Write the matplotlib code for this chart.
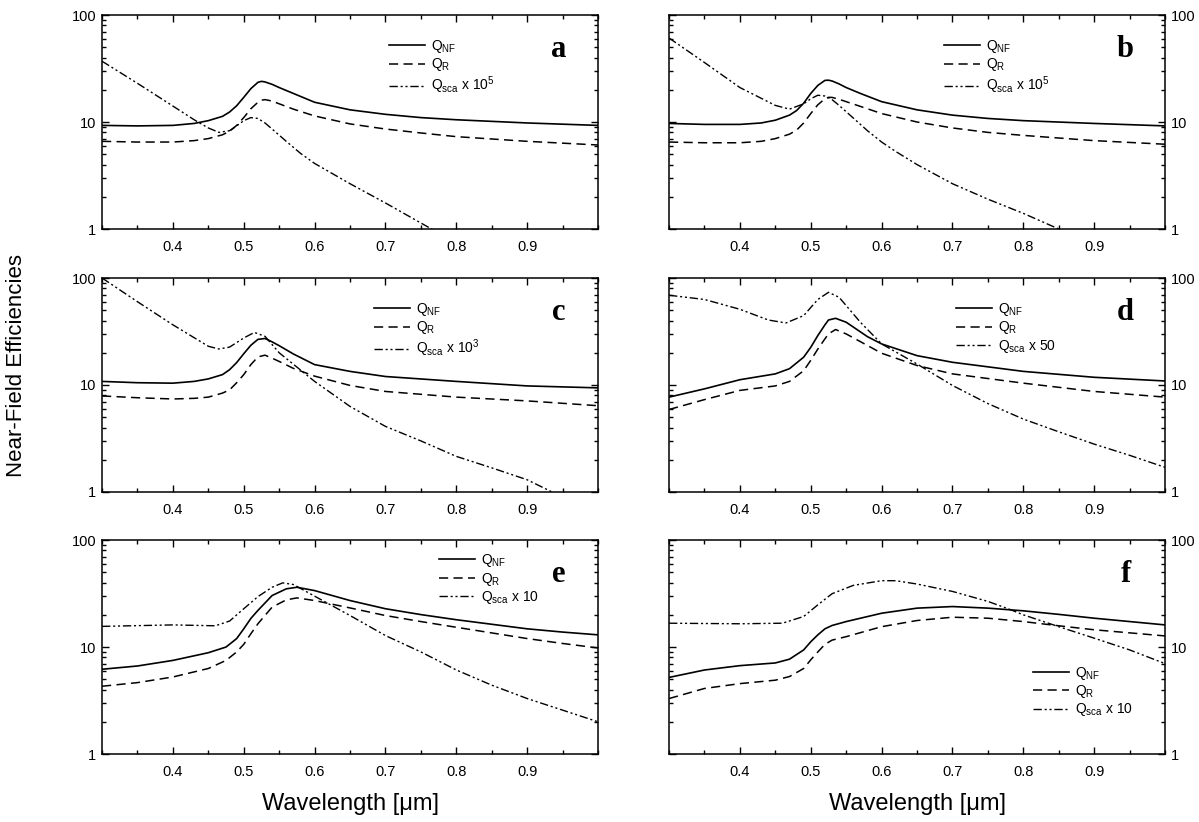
import numpy as np
import matplotlib
matplotlib.use("Agg")
import matplotlib.pyplot as plt
from matplotlib.ticker import MultipleLocator, LogLocator, NullFormatter, FixedLocator, FixedFormatter

plt.rcParams.update({"font.family": "Liberation Sans", "font.size": 10,
                     "mathtext.fontset": "custom", "mathtext.rm": "Liberation Sans",
                     "mathtext.it": "Liberation Sans:italic", "axes.linewidth": 1.1})

# ---- panel a ----
a_x = [0.30, 0.35, 0.40, 0.43, 0.45, 0.47, 0.48, 0.49, 0.50, 0.51, 0.52, 0.525, 0.53, 0.54, 0.55,
       0.57, 0.60, 0.65, 0.70, 0.75, 0.80, 0.90, 1.00]
a_nf = [9.3, 9.2, 9.3, 9.7, 10.3, 11.3, 12.4, 14.2, 17.0, 20.5, 23.5, 24.0, 23.7, 22.5, 21.0,
        18.5, 15.3, 13.0, 11.8, 11.0, 10.5, 9.8, 9.3]
a_r = [6.6, 6.5, 6.5, 6.7, 7.0, 7.6, 8.2, 9.3, 11.0, 13.3, 15.3, 16.0, 16.2, 15.7, 14.8,
       13.2, 11.4, 9.6, 8.6, 7.9, 7.3, 6.6, 6.1]
a_x_sca = [0.30, 0.35, 0.40, 0.43, 0.45, 0.465, 0.48, 0.49, 0.50, 0.51, 0.52, 0.53, 0.54,
           0.56, 0.58, 0.60, 0.65, 0.70, 0.765, 0.80, 0.90, 1.00]
a_sca = [37, 23, 14.1, 10.5, 8.8, 8.0, 8.3, 9.2, 10.3, 11.0, 10.8, 9.8, 8.6,
         6.6, 5.1, 4.1, 2.65, 1.75, 1.0, 0.8, 0.45, 0.28]

# ---- panel b ----
b_x = [0.30, 0.35, 0.40, 0.43, 0.45, 0.47, 0.48, 0.49, 0.50, 0.51, 0.52, 0.525, 0.53, 0.54, 0.55,
       0.57, 0.60, 0.65, 0.70, 0.75, 0.80, 0.90, 1.00]
b_nf = [9.7, 9.5, 9.5, 9.8, 10.4, 11.6, 12.8, 15.0, 18.5, 22.0, 24.5, 24.6, 24.2, 22.7, 21.0,
        18.5, 15.5, 13.0, 11.6, 10.8, 10.3, 9.7, 9.2]
b_r = [6.5, 6.4, 6.4, 6.6, 7.0, 7.7, 8.4, 9.8, 12.0, 14.5, 16.5, 17.0, 17.0, 16.3, 15.5,
       14.0, 12.0, 10.0, 8.8, 8.0, 7.5, 6.7, 6.2]
b_x_sca = [0.30, 0.35, 0.40, 0.45, 0.47, 0.49, 0.50, 0.51, 0.52, 0.53, 0.54, 0.56, 0.58,
           0.60, 0.62, 0.65, 0.70, 0.75, 0.80, 0.85, 0.90, 1.00]
b_sca = [61, 36, 21, 14.3, 13.2, 14.8, 16.5, 17.8, 17.5, 16.2, 14.3, 10.9, 8.3,
         6.5, 5.3, 4.0, 2.65, 1.9, 1.4, 1.0, 0.7, 0.4]

# ---- panel c ----
c_x = [0.30, 0.35, 0.40, 0.43, 0.45, 0.47, 0.48, 0.49, 0.50, 0.51, 0.52, 0.53, 0.54, 0.55,
       0.57, 0.60, 0.65, 0.70, 0.80, 0.90, 1.00]
c_nf = [10.8, 10.5, 10.4, 10.8, 11.4, 12.5, 13.9, 16.2, 19.6, 23.5, 26.7, 27.2, 25.3, 23.3,
        19.5, 15.5, 13.4, 12.0, 10.8, 9.8, 9.4]
c_r = [7.9, 7.6, 7.4, 7.5, 7.7, 8.4, 9.0, 10.5, 12.5, 15.5, 18.3, 19.0, 17.8, 16.6,
       14.3, 12.1, 9.9, 8.7, 7.7, 7.1, 6.4]
c_x_sca = [0.30, 0.35, 0.40, 0.45, 0.465, 0.48, 0.50, 0.515, 0.53, 0.55, 0.60, 0.65, 0.70,
           0.75, 0.80, 0.85, 0.90, 0.935, 1.00]
c_sca = [100, 60, 36.5, 23, 21.7, 22.6, 27.5, 31, 28.5, 20, 10.8, 6.3, 4.1,
         3.0, 2.15, 1.68, 1.3, 1.0, 0.8]

# ---- panel d ----
d_x = [0.30, 0.35, 0.40, 0.45, 0.47, 0.49, 0.50, 0.51, 0.52, 0.525, 0.535, 0.55, 0.58,
       0.60, 0.65, 0.70, 0.80, 0.90, 1.00]
d_nf = [7.7, 9.2, 11.2, 12.7, 14.2, 18.2, 22.5, 29.0, 36.5, 40.5, 42.0, 38.6, 28.3,
        24.2, 18.8, 16.3, 13.4, 11.8, 10.9]
d_r = [5.9, 7.3, 8.9, 9.8, 10.8, 13.6, 17.0, 21.7, 27.0, 30.0, 33.0, 30.0, 23.4,
       19.8, 15.2, 12.7, 10.4, 8.7, 7.7]
d_x_sca = [0.30, 0.35, 0.40, 0.44, 0.465, 0.49, 0.50, 0.51, 0.525, 0.54, 0.57, 0.60,
           0.65, 0.70, 0.75, 0.80, 0.85, 0.90, 0.95, 1.00]
d_sca = [69, 63, 51, 40.5, 38, 44.5, 53, 63, 73.5, 66, 38.6, 24.2,
         15.7, 9.9, 6.7, 4.8, 3.65, 2.8, 2.2, 1.7]

# ---- panel e ----
e_x = [0.30, 0.35, 0.40, 0.45, 0.475, 0.49, 0.50, 0.51, 0.52, 0.54, 0.56, 0.575, 0.60,
       0.65, 0.70, 0.75, 0.80, 0.90, 0.95, 1.00]
e_nf = [6.2, 6.65, 7.5, 8.85, 10.0, 12.0, 14.8, 18.5, 22.0, 30.3, 35.0, 36.2, 33.7,
        27.2, 22.8, 20.1, 18.0, 14.8, 13.8, 13.0]
e_r = [4.3, 4.65, 5.25, 6.3, 7.5, 9.0, 10.6, 13.3, 16.5, 23.6, 27.6, 28.8, 27.2,
       23.2, 19.7, 17.3, 15.3, 12.0, 10.8, 9.8]
e_x_sca = [0.30, 0.40, 0.46, 0.48, 0.50, 0.52, 0.54, 0.555, 0.57, 0.59, 0.62, 0.65,
           0.70, 0.75, 0.80, 0.85, 0.90, 0.95, 1.00]
e_sca = [15.6, 16.1, 15.8, 17.5, 22.8, 29.6, 36.2, 39.8, 38.4, 32.5, 25.3, 19.7,
         12.8, 9.0, 6.1, 4.4, 3.3, 2.57, 2.0]

# ---- panel f ----
f_x = [0.30, 0.35, 0.40, 0.45, 0.47, 0.49, 0.50, 0.51, 0.52, 0.53, 0.55, 0.60, 0.65,
       0.70, 0.75, 0.80, 0.85, 0.90, 1.00]
f_nf = [5.2, 6.1, 6.7, 7.1, 7.7, 9.4, 11.2, 13.0, 14.8, 15.9, 17.3, 20.7, 23.1,
        23.9, 23.1, 21.8, 20.2, 18.6, 16.1]
f_r = [3.3, 4.1, 4.55, 4.9, 5.3, 6.3, 7.6, 9.0, 10.6, 11.6, 12.5, 15.5, 17.7,
       19.0, 18.6, 17.3, 15.8, 14.5, 12.7]
f_x_sca = [0.30, 0.40, 0.46, 0.49, 0.51, 0.53, 0.56, 0.60, 0.62, 0.65, 0.70, 0.75,
           0.78, 0.80, 0.85, 0.90, 0.95, 1.00]
f_sca = [16.7, 16.5, 16.7, 19.3, 24.8, 31.5, 37.7, 41.7, 41.7, 38.8, 33.1, 26.7,
         22.6, 20.0, 15.5, 12.1, 9.4, 7.0]

panels = [
    ("a", a_x, a_nf, a_r, a_x_sca, a_sca, r"Q$_{\rm sca}$ x 10$^{5}$", (0.565, 0.925)),
    ("b", b_x, b_nf, b_r, b_x_sca, b_sca, r"Q$_{\rm sca}$ x 10$^{5}$", (0.54, 0.925)),
    ("c", c_x, c_nf, c_r, c_x_sca, c_sca, r"Q$_{\rm sca}$ x 10$^{3}$", (0.535, 0.925)),
    ("d", d_x, d_nf, d_r, d_x_sca, d_sca, r"Q$_{\rm sca}$ x 50", (0.565, 0.925)),
    ("e", e_x, e_nf, e_r, e_x_sca, e_sca, r"Q$_{\rm sca}$ x 10", (0.665, 0.975)),
    ("f", f_x, f_nf, f_r, f_x_sca, f_sca, r"Q$_{\rm sca}$ x 10", (0.72, 0.45)),
]

fig = plt.figure(figsize=(11.99, 8.22), dpi=100)
lefts = [0.0851, 0.558]
bottoms = [0.7214, 0.4015, 0.0827]
W, H = 0.4137, 0.2603
DASHDOT2 = (0, (6, 2, 1.5, 2, 1.5, 2))

for i, (lab, x, yn, yr, xs, ys, slab, lpos) in enumerate(panels):
    row, col = divmod(i, 2)
    ax = fig.add_axes([lefts[col], bottoms[row], W, H])
    ax.plot(x, yn, color="black", lw=1.2, label=r"Q$_{\rm NF}$")
    ax.plot(x, yr, color="black", lw=1.1, ls=(0, (6, 3.5)), label=r"Q$_{\rm R}$")
    ax.plot(xs, ys, color="black", lw=1.0, ls=DASHDOT2, label=slab)
    ax.set_yscale("log")
    ax.set_xlim(0.3, 1.0)
    ax.set_ylim(1, 100)
    ax.xaxis.set_major_locator(FixedLocator([0.4, 0.5, 0.6, 0.7, 0.8, 0.9]))
    ax.xaxis.set_major_formatter(FixedFormatter(["0.4", "0.5", "0.6", "0.7", "0.8", "0.9"]))
    ax.xaxis.set_minor_locator(MultipleLocator(0.05))
    ax.yaxis.set_major_locator(FixedLocator([1, 10, 100]))
    ax.yaxis.set_major_formatter(FixedFormatter(["1", "10", "100"]))
    ax.yaxis.set_minor_locator(LogLocator(base=10, subs=np.arange(2, 10)))
    ax.yaxis.set_minor_formatter(NullFormatter())
    ax.tick_params(which="both", direction="in", top=True, right=True, labelsize=10.5, width=1)
    ax.tick_params(which="major", length=5)
    ax.tick_params(which="minor", length=3)
    ax.tick_params(axis="x", pad=8)
    if col == 1:
        ax.tick_params(axis="y", labelleft=False, labelright=True, pad=4)
    else:
        ax.tick_params(axis="y", pad=4)
    ax.text(0.92, 0.84, lab, transform=ax.transAxes, ha="center", va="center",
            fontsize=22, fontweight="bold", family="Liberation Serif")
    ax.legend(loc="upper left", bbox_to_anchor=lpos, frameon=False, fontsize=10,
              handlelength=2.6, handletextpad=0.4, labelspacing=0.1, borderpad=0)

fig.text(0.292, 0.008, "Wavelength [\u03bcm]", ha="center", va="bottom", fontsize=17)
fig.text(0.765, 0.008, "Wavelength [\u03bcm]", ha="center", va="bottom", fontsize=17)
fig.text(0.014, 0.555, "Near-Field Efficiencies", rotation=90, ha="center", va="center", fontsize=16)

fig.savefig("out.png", dpi=100)
